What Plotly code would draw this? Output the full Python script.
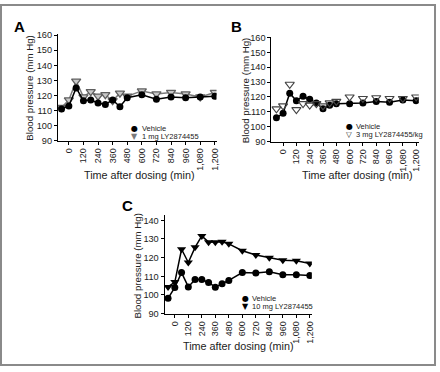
import plotly.graph_objects as go

W, H = 440, 372

time_min = [-60, 0, 60, 120, 180, 240, 300, 360, 420, 480, 600, 720, 840, 960, 1080, 1200]
tick_vals = [0, 120, 240, 360, 480, 600, 720, 840, 960, 1080, 1200]
tick_text = ["0", "120", "240", "360", "480", "600", "720", "840", "960", "1,080", "1,200"]

a_vehicle = [111, 113, 125, 116.5, 117, 115, 114, 117, 112.5, 118.5, 120.5, 117.5, 119, 118.5, 119, 119.5]
a_drug = [112, 117, 129.5, 119, 122.5, 119.5, 120.5, 116.5, 121.5, 119.5, 123, 121, 122, 121, 119, 122]

b_vehicle = [106, 109, 122.5, 117.5, 120.5, 118.5, 116, 112, 114.5, 115.5, 115.5, 116, 117, 116.5, 118, 117.5]
b_drug = [112, 114, 128.5, 111.5, 115.5, 114.5, 115.5, 114, 116, 117, 120, 119, 119.5, 119, 119, 120]

c_vehicle = [98.2, 104, 112, 104.3, 108.3, 108.3, 106.7, 104.2, 106, 107.8, 112, 111.8, 112.4, 110.8, 110.8, 110.4]
c_drug = [104.3, 106.9, 124.5, 117.4, 125.5, 131.6, 128.3, 128.3, 128.5, 127.4, 123.7, 121.4, 120, 118.6, 118.3, 116.9]

FONT = "Arial, Liberation Sans, sans-serif"

def px_x(p):
    return p / W

def px_y(p):
    return 1 - p / H

fig = go.Figure()

# Panel A
fig.add_trace(go.Scatter(x=time_min, y=a_drug, mode="lines+markers", xaxis="x", yaxis="y",
                         line=dict(color="#7a7a7a", width=1.5),
                         marker=dict(symbol="triangle-down", size=8, color="#c8c8c8",
                                     line=dict(color="#5f5f5f", width=1.3)),
                         showlegend=False))
fig.add_trace(go.Scatter(x=time_min, y=a_vehicle, mode="lines+markers", xaxis="x", yaxis="y",
                         line=dict(color="black", width=1.5),
                         marker=dict(symbol="circle", size=7, color="black"),
                         showlegend=False))

# Panel B
fig.add_trace(go.Scatter(x=time_min, y=b_vehicle, mode="lines+markers", xaxis="x2", yaxis="y2",
                         line=dict(color="black", width=1.5),
                         marker=dict(symbol="circle", size=7, color="black"),
                         showlegend=False))
fig.add_trace(go.Scatter(x=time_min, y=b_drug, mode="markers", xaxis="x2", yaxis="y2",
                         marker=dict(symbol="triangle-down-open", size=8, color="#444444",
                                     line=dict(width=1.1)),
                         showlegend=False))

# Panel C
fig.add_trace(go.Scatter(x=time_min, y=c_drug, mode="lines+markers", xaxis="x3", yaxis="y3",
                         line=dict(color="black", width=1.5),
                         marker=dict(symbol="triangle-down", size=8, color="black"),
                         showlegend=False))
fig.add_trace(go.Scatter(x=time_min, y=c_vehicle, mode="lines+markers", xaxis="x3", yaxis="y3",
                         line=dict(color="black", width=1.5),
                         marker=dict(symbol="circle", size=7, color="black"),
                         showlegend=False))

def xaxis(dom, rng, anchor):
    return dict(domain=[px_x(dom[0]), px_x(dom[1])], range=rng, anchor=anchor,
                tickmode="array", tickvals=tick_vals, ticktext=tick_text, tickangle=-90,
                showline=True, linecolor="black", linewidth=1, ticks="outside", ticklen=3,
                tickcolor="black", showgrid=False, zeroline=False,
                tickfont=dict(family=FONT, size=9, color="#222"))

def yaxis(dom, rng, anchor, dtick=10):
    return dict(domain=[px_y(dom[1]), px_y(dom[0])], range=rng, anchor=anchor,
                tick0=90, dtick=dtick, showline=True, linecolor="black", linewidth=1,
                ticks="outside", ticklen=3, tickcolor="black", showgrid=False, zeroline=False,
                tickfont=dict(family=FONT, size=9.2, color="#222"))

fig.update_layout(
    width=W, height=H,
    margin=dict(l=0, r=0, t=0, b=0),
    paper_bgcolor="white", plot_bgcolor="white",
    xaxis=xaxis((58.3, 218), [-90, 1214], "y"),
    yaxis=yaxis((31.2, 140), [90, 160.5], "x"),
    xaxis2=xaxis((273.3, 421.7), [-105, 1224], "y2"),
    yaxis2=yaxis((33.5, 141), [90, 160.5], "x2"),
    xaxis3=xaxis((165.7, 314), [-91, 1218], "y3"),
    yaxis3=yaxis((216.7, 317.3), [90, 142.6], "x3"),
)

ann = []
def add_text(x, y, text, size=10, angle=0, bold=False, xanchor="center", color="#222"):
    t = f"<b>{text}</b>" if bold else text
    ann.append(dict(x=px_x(x), y=px_y(y), xref="paper", yref="paper", text=t, showarrow=False,
                    textangle=angle, xanchor=xanchor, yanchor="middle",
                    font=dict(family=FONT, size=size, color=color)))

# panel labels
add_text(20, 23, "A", size=15, bold=True, color="black")
add_text(238, 23, "B", size=15, bold=True, color="black")
add_text(128, 206, "C", size=15, bold=True, color="black")

# axis titles
ytitle = "Blood pressure (mm Hg)"
xtitle = "Time after dosing (min)"
add_text(30, 86, ytitle, size=9.7, angle=-90)
add_text(248, 88, ytitle, size=9.7, angle=-90)
add_text(138, 268, ytitle, size=9.7, angle=-90)
add_text(140, 175, xtitle, size=10.8)
add_text(360, 175, xtitle, size=10.8)
add_text(240, 350, xtitle, size=10.8)

# legends
def legend_row(xm, y, sym, symcolor, label, symsize=8):
    ann.append(dict(x=px_x(xm), y=px_y(y), xref="paper", yref="paper", text=sym,
                    showarrow=False, xanchor="center", yanchor="middle", borderpad=0,
                    font=dict(family="DejaVu Sans", size=symsize, color=symcolor)))
    ann.append(dict(x=px_x(xm + 6), y=px_y(y), xref="paper", yref="paper", text=label,
                    showarrow=False, xanchor="left", yanchor="middle", borderpad=0,
                    font=dict(family=FONT, size=7.5, color="#222")))

legend_row(135.7, 127.3, "●", "black", "Vehicle")
legend_row(135.7, 135.7, "▼", "#7a7a7a", "1 mg LY2874455")
legend_row(351.7, 125.6, "●", "black", "Vehicle")
legend_row(351.7, 133.6, "▽", "#333", "3 mg LY2874455/kg", symsize=7.5)
legend_row(246.7, 301.7, "●", "black", "Vehicle")
legend_row(246.7, 309.5, "▼", "black", "10 mg LY2874455")

fig.update_layout(annotations=ann)

# outer frame
fig.add_shape(type="rect", xref="paper", yref="paper",
              x0=px_x(1), x1=px_x(438), y0=px_y(370), y1=px_y(1),
              line=dict(color="#8a8a8a", width=2), fillcolor="rgba(0,0,0,0)")

fig.write_html("out.html", config={"displayModeBar": False},
               post_script="document.body.style.margin='0';document.body.style.overflow='hidden';")
